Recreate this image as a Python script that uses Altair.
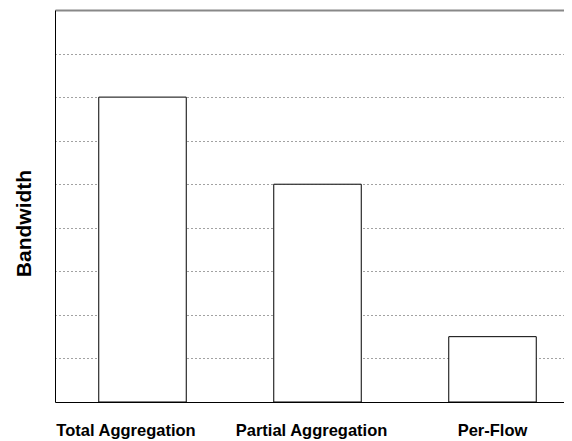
import altair as alt
import pandas as pd

categories = ["Total Aggregation", "Partial Aggregation", "Per-Flow"]
values = [7, 5, 1.5]
grid_values = [1, 2, 3, 4, 5, 6, 7, 8, 9]

df = pd.DataFrame({"scheme": categories, "bw": values})

FONT = "Liberation Sans"

chart = alt.Chart(df).mark_bar(
    fill="white", stroke="black", strokeWidth=1
).encode(
    x=alt.X(
        "scheme:N",
        sort=categories,
        scale=alt.Scale(paddingInner=0.5, paddingOuter=0.2043, align=0.612),
        axis=alt.Axis(
            title=None,
            labelAngle=0,
            labelFont=FONT,
            labelFontSize=16.5,
            labelFontWeight="bold",
            labelColor="black",
            labelPadding=20,
            labelOffset={
                "condition": [
                    {"test": "datum.value === 'Total Aggregation'", "value": -16.5},
                    {"test": "datum.value === 'Partial Aggregation'", "value": -6},
                ],
                "value": 0,
            },
            labelBound=False,
            labelOverlap=False,
            ticks=False,
            domainColor="black",
            domainWidth=1,
            grid=False,
        ),
    ),
    y=alt.Y(
        "bw:Q",
        scale=alt.Scale(domain=[0, 9], nice=False),
        axis=alt.Axis(
            title="Bandwidth",
            titleFont=FONT,
            titleFontSize=21,
            titleFontWeight="bold",
            titleColor="black",
            titlePadding=21,
            titleY=213,
            labels=False,
            ticks=False,
            domainColor="black",
            domainWidth=1,
            values=grid_values,
            grid=True,
            gridColor={
                "condition": {"test": "datum.value === 9", "value": "#888888"},
                "value": "#444444",
            },
            gridDash={
                "condition": {"test": "datum.value === 9", "value": []},
                "value": [1, 3],
            },
            gridWidth={
                "condition": {"test": "datum.value === 9", "value": 2},
                "value": 1,
            },
            gridOpacity=1,
        ),
    ),
).properties(
    width=509,
    height=392,
    autosize=alt.AutoSizeParams(type="none"),
    padding={"left": 47, "top": 2, "right": 0, "bottom": 38},
    background="white",
).configure_view(stroke=None)

chart.save("out.html", embed_options={"renderer": "svg", "actions": False})
